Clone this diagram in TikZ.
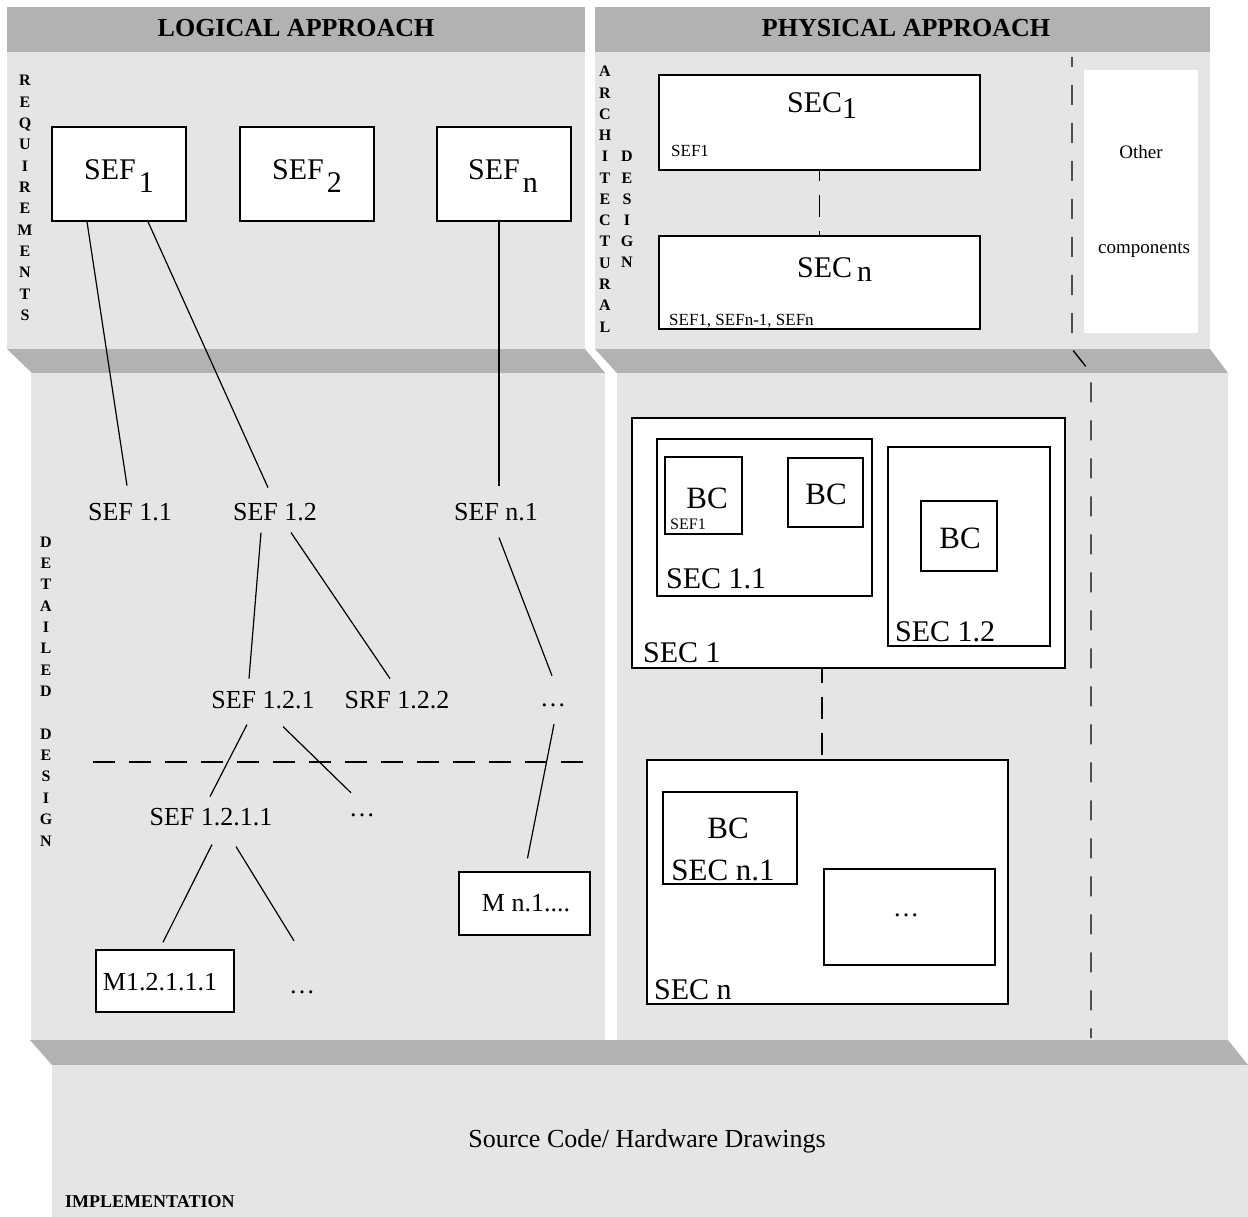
\documentclass[tikz,border=0pt]{standalone}
\usepackage{fontspec}
\setmainfont{Liberation Serif}
\usetikzlibrary{fit}
\definecolor{panel}{gray}{0.898}
\definecolor{band}{gray}{0.698}
\newcommand\pxsize[1]{\fontsize{#1}{#1}\selectfont}
\begin{document}
\begin{tikzpicture}[x=1pt,y=-1pt,
  box/.style={draw, fill=white, line width=1.4pt, inner sep=0pt},
  plain/.style={fill=white, inner sep=0pt},
  lbl/.style={font=\pxsize{26}, inner sep=0pt, anchor=base},
  dots/.style={font=\pxsize{26}, inner sep=0pt, anchor=base, text height=18pt, text depth=0pt},
  big/.style={font=\pxsize{30}, inner sep=0pt, anchor=base west},
  bc/.style={font=\pxsize{31}, inner sep=0pt, anchor=base},
  sml/.style={font=\pxsize{17}, inner sep=0pt, anchor=base west},
  hdr/.style={font=\pxsize{26}\bfseries, inner sep=0pt, anchor=base},
  vlet/.style={font=\pxsize{16}\bfseries, inner sep=0pt, anchor=base},
  link/.style={line width=1.2pt},
  dashlink/.style={line width=1.4pt, dash pattern=on 22pt off 14pt}]
\useasboundingbox (0,0) rectangle (1248,1217);

% ---- grey layers ----
\fill[panel] (7,52) rectangle (585,349);
\fill[band] (7,7) rectangle (585,52);
\fill[panel] (595,52) rectangle (1210,349);
\fill[band] (595,7) rectangle (1210,52);
\fill[band] (7,349) -- (585,349) -- (605,373) -- (32,373) -- cycle;
\fill[band] (595,349) -- (1210,349) -- (1228,373) -- (617,373) -- cycle;
\fill[panel] (31,373) rectangle (605,1040);
\fill[panel] (617,373) rectangle (1228,1040);
\fill[band] (30,1040) -- (1228,1040) -- (1248,1065) -- (52,1065) -- cycle;
\fill[panel] (52,1065) rectangle (1248,1217);

% ---- headers ----
\node[hdr] (hlog) at (296,37) {LOGICAL APPROACH};
\node[hdr] (hphy) at (906,37) {PHYSICAL APPROACH};

% ---- vertical phase names ----
\foreach \ch [count=\i from 0] in {R,E,Q,U,I,R,E,M,E,N,T,S}
  \node[vlet] (req-\i) at (25,{86+21.3*\i}) {\ch};
\foreach \ch [count=\i from 0] in {A,R,C,H,I,T,E,C,T,U,R,A,L}
  \node[vlet] (arc-\i) at (605,{77+21.25*\i}) {\ch};
\foreach \ch [count=\i from 0] in {D,E,S,I,G,N}
  \node[vlet] (ades-\i) at (627,{162+21.2*\i}) {\ch};
\foreach \ch [count=\i from 0] in {D,E,T,A,I,L,E,D,{},D,E,S,I,G,N}
  \node[vlet] (det-\i) at (46,{547+21.36*\i}) {\ch};

% ---- requirements: system functions ----
\node[box, fit={(52,127) (186,221)}] (sef1) {};
\node[box, fit={(240,127) (374,221)}] (sef2) {};
\node[box, fit={(437,127) (571,221)}] (sefn) {};
\node[big] (sef1t) at (84,180) {SEF\hspace{3pt}\raisebox{-13pt}{1}};
\node[big] (sef2t) at (272,180) {SEF\hspace{3pt}\raisebox{-13pt}{2}};
\node[big] (sefnt) at (468,180) {SEF\hspace{3pt}\raisebox{-13pt}{n}};

% ---- detailed design: function tree ----
\node[lbl] (f11) at (130,520) {SEF 1.1};
\node[lbl] (f12) at (275,520) {SEF 1.2};
\node[lbl] (fn1) at (496,520) {SEF n.1};
\node[lbl] (f121) at (263,708) {SEF 1.2.1};
\node[lbl] (f122) at (397,708) {SRF 1.2.2};
\node[dots] (d1) at (553,706) {\dots};
\node[lbl] (f1211) at (211,825) {SEF 1.2.1.1};
\node[dots] (d2) at (362,816) {\dots};
\node[box, fit={(96,950) (234,1012)}] (m1) {};
\node[lbl] (m1t) at (160,990) {M1.2.1.1.1};
\node[dots] (d3) at (302,993) {\dots};
\node[box, fit={(459,872) (590,935)}] (mn) {};
\node[lbl] (mnt) at (526,911) {M n.1....};

\draw[link] ([shift={(-32,0)}]sef1.south) -- ([shift={(-3,-17)}]f11.north);
\draw[link] ([shift={(29,0)}]sef1.south) -- ([shift={(-7,-15)}]f12.north);
\draw[link] ([shift={(-5,0)}]sefn.south) -- ([shift={(3,-17)}]fn1.north);
\draw[link] ([shift={(-14,12)}]f12.south) -- ([shift={(-14,-12)}]f121.north);
\draw[link] ([shift={(16,12)}]f12.south) -- ([shift={(-7,-12)}]f122.north);
\draw[link] ([shift={(3,17)}]fn1.south) -- ([shift={(-1,-12)}]d1.north);
\draw[link] ([shift={(-16,16)}]f121.south) -- ([shift={(-1,-11)}]f1211.north);
\draw[link] ([shift={(20,18)}]f121.south) -- ([shift={(-11,-5)}]d2.north);
\draw[link] ([shift={(1,18)}]d1.south) -- ([shift={(3,-13)}]mn.north);
\draw[link] ([shift={(1,19)}]f1211.south) -- ([shift={(-2,-7)}]m1.north);
\draw[link] ([shift={(25,21)}]f1211.south) -- ([shift={(-8,-34)}]d3.north);

% boundary between detailed design and lower levels
\draw[dashlink] (93,762) -- (588,762);

% ---- architectural design: system components ----
\node[box, fit={(659,75) (980,170)}] (sec1) {};
\node[box, fit={(659,236) (980,329)}] (secn) {};
\node[big] (sec1t) at (787,113) {SEC\raisebox{-6pt}{1}};
\node[sml] (sec1f) at (671,157) {SEF1};
\node[big] (secnt) at (797,277) {SEC\hspace{5pt}\raisebox{-5pt}{n}};
\node[sml] (secnf) at (669,325) {SEF1, SEFn-1, SEFn};
\draw[dashlink, dash phase=12pt] (sec1.south) -- (secn.north);

\node[plain, fit={(1084,70) (1198,333)}] (oth) {};
\node[font=\pxsize{19}, inner sep=0pt, anchor=base] (otht) at (1141,159) {Other};
\node[font=\pxsize{19}, inner sep=0pt, anchor=base] (othc) at (1144,254) {components};

% separation of other components
\draw[line width=1.4pt, dash pattern=on 20pt off 18pt, dash phase=10pt]
  (1072,57) -- (1072,349) -- (1091,373) -- (1091,1038);

% ---- detailed design: component tree ----
\node[box, fit={(632,418) (1065,668)}] (c1) {};
\node[box, fit={(657,439) (872,596)}] (c11) {};
\node[box, fit={(665,457) (742,534)}] (bca) {};
\node[box, fit={(788,458) (863,527)}] (bcb) {};
\node[box, fit={(888,447) (1050,646)}] (c12) {};
\node[box, fit={(921,501) (997,571)}] (bcc) {};
\node[big] (c1t) at (643,662) {SEC 1};
\node[big] (c11t) at (666,588) {SEC 1.1};
\node[bc] (bcat) at (707,508) {BC};
\node[font=\pxsize{16}, inner sep=0pt, anchor=base west] (bcaf) at (670,529) {SEF1};
\node[bc] (bcbt) at (826,504) {BC};
\node[big] (c12t) at (895,641) {SEC 1.2};
\node[bc] (bcct) at (960,548) {BC};

\node[box, fit={(647,760) (1008,1004)}] (cn) {};
\node[box, fit={(663,792) (797,884)}] (bcd) {};
\node[box, fit={(824,869) (995,965)}] (cx) {};
\node[big] (cnt) at (654,999) {SEC n};
\node[bc] (bcdt) at (728,838) {BC};
\node[bc] (bcdn) at (723,880) {SEC n.1};
\node[dots] (cxt) at (906,916) {\dots};
\draw[dashlink, dash phase=8pt] ([shift={(-26.5,0)}]c1.south) -- ([shift={(-5.5,0)}]cn.north);

% ---- implementation ----
\node[lbl] (src) at (647,1147) {Source Code/ Hardware Drawings};
\node[font=\pxsize{18}\bfseries, inner sep=0pt, anchor=base west] (impl) at (65,1207) {IMPLEMENTATION};
\end{tikzpicture}
\end{document}
